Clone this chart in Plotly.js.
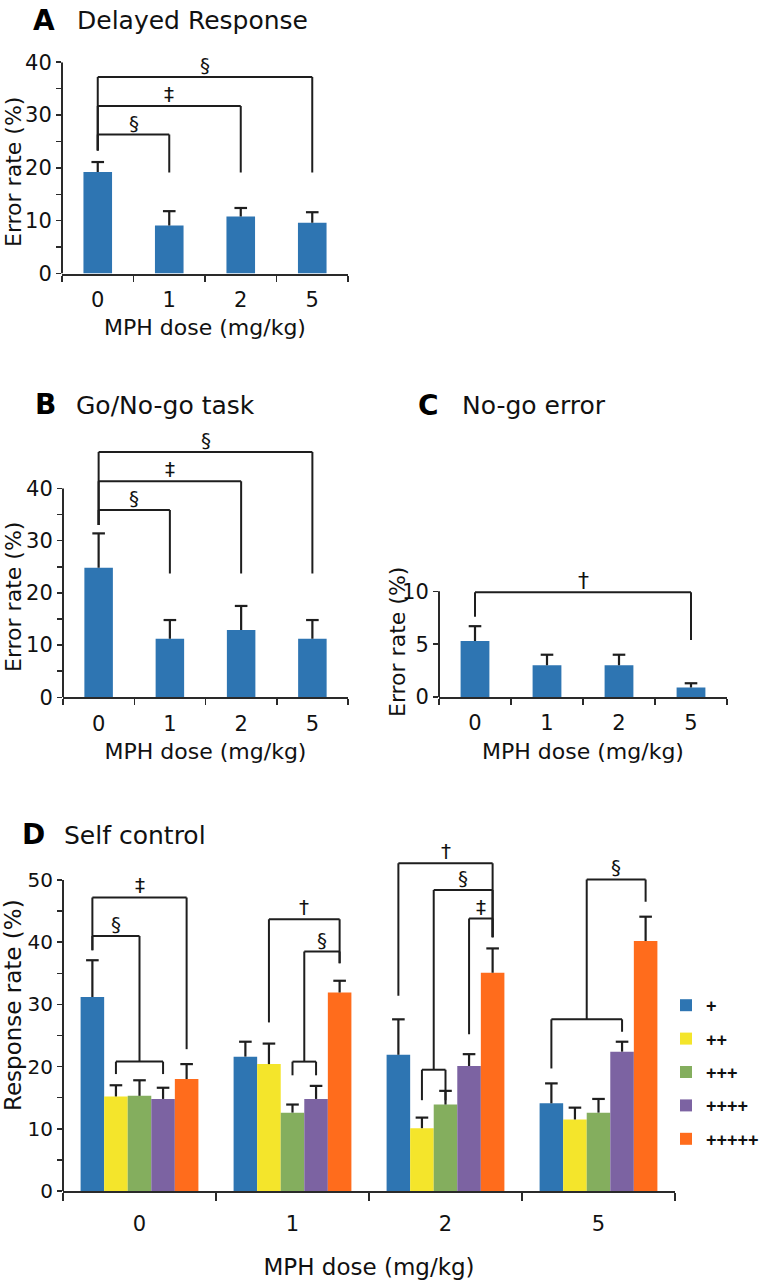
<!DOCTYPE html>
<html>
<head>
<meta charset="utf-8">
<script src="https://cdn.plot.ly/plotly-3.0.1.min.js"></script>
<style>
  html, body { margin: 0; padding: 0; background: #ffffff; }
  #chart { width: 764px; height: 1280px; }
</style>
</head>
<body>
<div id="chart"></div>
<script>
// ---------------- data ----------------
const doses = ['0', '1', '2', '5'];
const xLabel = 'MPH dose (mg/kg)';
const yLabelError = 'Error rate (%)';
const yLabelResponse = 'Response rate (%)';

// Panel A: Delayed Response
const delayedMean = [19.2, 9.1, 10.8, 9.6];
const delayedSem  = [1.9, 2.7, 1.6, 2.0];
// Panel B: Go/No-go task
const goNoGoMean = [24.8, 11.2, 12.9, 11.2];
const goNoGoSem  = [6.6, 3.6, 4.6, 3.6];
// Panel C: No-go error
const noGoMean = [5.3, 3.0, 3.0, 0.9];
const noGoSem  = [1.4, 1.0, 1.0, 0.4];

// Panel D: Self control (per level, across doses)
const levels = ['+', '++', '+++', '++++', '+++++'];
const selfMean = [
  [31.2, 21.6, 21.9, 14.1],
  [15.2, 20.4, 10.1, 11.5],
  [15.3, 12.6, 13.9, 12.6],
  [14.8, 14.8, 20.1, 22.4],
  [18.0, 31.9, 35.1, 40.2]
];
const selfSem = [
  [5.9, 2.4, 5.7, 3.2],
  [1.8, 3.3, 1.7, 1.9],
  [2.5, 1.3, 2.2, 2.2],
  [1.8, 2.1, 1.9, 1.6],
  [2.4, 1.9, 3.9, 3.9]
];

// Significance brackets: [fromDoseIdx, toDoseIdx, level, leftLegEnd, rightLegEnd, symbol]
const bracketsA = [
  [0, 3, 37.2, 23.3, 19.1, '§'],
  [0, 2, 31.7, 23.3, 19.1, '‡'],
  [0, 1, 26.3, 23.3, 19.1, '§']
];
const bracketsB = [
  [0, 3, 47.0, 33.0, 23.7, '§'],
  [0, 2, 41.4, 33.0, 23.7, '‡'],
  [0, 1, 35.9, 33.0, 23.7, '§']
];
const bracketsC = [
  [0, 3, 9.9, 7.6, 5.4, '†']
];
// Panel D brackets: [doseIdx, fromBarPos, toBarPos, level, leftLegEnd, rightLegEnd, symbol]
const bracketsD = [
  [0, 0, 4, 47.2, 38.7, 22.8, '‡'],
  [0, 0, 2, 41.0, 38.7, 20.8, '§'],
  [0, 1, 3, 20.8, 18.8, 18.8, ''],
  [1, 1, 4, 43.7, 27.1, 36.6, '†'],
  [1, 2.5, 4, 38.5, 20.8, 36.6, '§'],
  [1, 2, 3, 20.8, 18.6, 18.6, ''],
  [2, 0, 4, 52.7, 31.4, 40.8, '†'],
  [2, 1.5, 4, 48.4, 19.5, 40.8, '§'],
  [2, 1, 2, 19.5, 14.6, 14.6, ''],
  [2, 3, 4, 43.8, 25.2, 40.8, '‡'],
  [3, 1.5, 4, 50.1, 27.6, 46.5, '§'],
  [3, 0, 3, 27.6, 19.7, 25.6, '']
];

// ---------------- styling / layout helpers ----------------
const W = 764, H = 1280;
const FONT = 'DejaVu Sans';
const INK = '#1e1e1e';
const AXIS = '#2a2a2a';
const BAR_BLUE = '#2E75B2';
const levelColors = ['#2E75B2', '#F4E52B', '#84AE5E', '#7C63A2', '#FF6C1C'];
const BARGAP_D = 0.23;
const barW_D = (1 - BARGAP_D) / levels.length;

const idx = doses.map((d, i) => i);
const bounds = [-0.5].concat(idx.map(i => i + 0.5));
const barPos = (g, pos) => g + (pos - (levels.length - 1) / 2) * barW_D;

function dom(px0, px1, pyZero, ppu, ymax) {
  return {
    x: [px0 / W, px1 / W],
    y: [1 - pyZero / H, 1 - (pyZero - ppu * ymax) / H]
  };
}
const P = {
  A: Object.assign(dom(62, 348, 273.5, 5.283, 40), {ymax: 40, top: 40, major: [0, 10, 20, 30, 40], minor: [5, 15, 25, 35]}),
  B: Object.assign(dom(63, 348, 697.3, 5.22, 50), {ymax: 50, top: 40, major: [0, 10, 20, 30, 40], minor: [5, 15, 25, 35]}),
  C: Object.assign(dom(439, 727, 697, 10.57, 11.5), {ymax: 11.5, top: 10, major: [0, 5, 10], minor: []}),
  D: Object.assign(dom(63, 675, 1191, 6.22, 57), {ymax: 57, top: 50, major: [0, 10, 20, 30, 40, 50], minor: [5, 15, 25, 35, 45]})
};

function xAxis(p, anchor, tickSize, labelStandoff, titleSize, titleStandoff, tickLen) {
  return {
    domain: p.x, anchor: anchor, range: [-0.5, 3.5],
    tickmode: 'array', tickvals: idx, ticktext: doses,
    ticks: 'outside', ticklen: tickLen, tickcolor: 'rgba(0,0,0,0)',
    ticklabelstandoff: labelStandoff,
    minor: {tickmode: 'array', tickvals: bounds, ticks: 'outside', ticklen: tickLen, tickwidth: 1.5, tickcolor: AXIS, showgrid: false},
    showline: true, linewidth: 2, linecolor: AXIS,
    showgrid: false, zeroline: false,
    tickfont: {family: FONT, size: tickSize, color: '#111'},
    title: {text: xLabel, font: {family: FONT, size: titleSize, color: '#111'}, standoff: titleStandoff}
  };
}
function yAxis(p, anchor, tickSize) {
  return {
    domain: p.y, anchor: anchor, range: [0, p.ymax],
    tickmode: 'array', tickvals: p.major,
    ticks: 'outside', ticklen: 5, tickwidth: 1.5, tickcolor: AXIS,
    ticklabelstandoff: 0,
    minor: {tickmode: 'array', tickvals: p.minor, ticks: 'outside', ticklen: 5, tickwidth: 1.5, tickcolor: AXIS, showgrid: false},
    showline: false, showgrid: false, zeroline: false,
    tickfont: {family: FONT, size: tickSize, color: '#111'}
  };
}

// ---------------- traces ----------------
function barWithError(xs, means, sems, xa, ya, color, width, name, k) {
  const bar = {
    type: 'bar', x: xs, y: means, xaxis: xa, yaxis: ya,
    marker: {color: color, line: {width: 0}},
    showlegend: name !== undefined, name: name, hoverinfo: 'y'
  };
  if (width !== undefined) bar.width = width;
  if (name !== undefined) bar.legendgroup = 'g' + k;
  return bar;
}
// upward error bar ("T" shaped: line from bar top, cap only at the end)
function errorCaps(xs, means, sems, xa, ya) {
  return {
    type: 'scatter', mode: 'markers', xaxis: xa, yaxis: ya,
    x: xs, y: means.map((m, i) => m + sems[i]),
    marker: {symbol: 'line-ew', size: 9, color: INK, line: {color: INK, width: 2.2}},
    error_y: {type: 'data', symmetric: false, array: sems.map(() => 0), arrayminus: sems,
              color: INK, thickness: 2.2, width: 0},
    showlegend: false, hoverinfo: 'skip', cliponaxis: false
  };
}
const traces = [
  barWithError(idx, delayedMean, delayedSem, 'x', 'y', BAR_BLUE, 0.4),
  barWithError(idx, goNoGoMean, goNoGoSem, 'x2', 'y2', BAR_BLUE, 0.4),
  barWithError(idx, noGoMean, noGoSem, 'x3', 'y3', BAR_BLUE, 0.4)
];
levels.forEach((lv, k) => {
  traces.push(barWithError(idx, selfMean[k], selfSem[k], 'x4', 'y4', levelColors[k], undefined, lv, k));
});
traces.push(errorCaps(idx, delayedMean, delayedSem, 'x', 'y'));
traces.push(errorCaps(idx, goNoGoMean, goNoGoSem, 'x2', 'y2'));
traces.push(errorCaps(idx, noGoMean, noGoSem, 'x3', 'y3'));
levels.forEach((lv, k) => {
  traces.push(errorCaps(idx.map(g => barPos(g, k)), selfMean[k], selfSem[k], 'x4', 'y4'));
});

// ---------------- shapes & annotations ----------------
const shapes = [];
const annotations = [];
const lineStyle = {color: INK, width: 2};

// y axis lines (stop at top tick)
[['x', 'y', P.A], ['x2', 'y2', P.B], ['x3', 'y3', P.C], ['x4', 'y4', P.D]].forEach(([xa, ya, p]) => {
  shapes.push({type: 'line', xref: xa + ' domain', yref: ya, x0: 0, x1: 0, y0: 0, y1: p.top,
               line: {color: AXIS, width: 2}});
});

function addBracket(xa, ya, x0, x1, lvl, leg0, leg1, sym, symSize) {
  shapes.push({type: 'line', xref: xa, yref: ya, x0: x0, x1: x1, y0: lvl, y1: lvl, line: lineStyle});
  shapes.push({type: 'line', xref: xa, yref: ya, x0: x0, x1: x0, y0: lvl, y1: leg0, line: lineStyle});
  shapes.push({type: 'line', xref: xa, yref: ya, x0: x1, x1: x1, y0: lvl, y1: leg1, line: lineStyle});
  if (sym) {
    annotations.push({xref: xa, yref: ya, x: (x0 + x1) / 2, y: lvl, text: sym, showarrow: false,
                      xanchor: 'center', yanchor: 'middle', yshift: 12,
                      font: {family: FONT, size: symSize, color: '#111'}});
  }
}
bracketsA.forEach(b => addBracket('x', 'y', b[0], b[1], b[2], b[3], b[4], b[5], 20));
bracketsB.forEach(b => addBracket('x2', 'y2', b[0], b[1], b[2], b[3], b[4], b[5], 20));
bracketsC.forEach(b => addBracket('x3', 'y3', b[0], b[1], b[2], b[3], b[4], b[5], 22));
bracketsD.forEach(b => addBracket('x4', 'y4', barPos(b[0], b[1]), barPos(b[0], b[2]), b[3], b[4], b[5], b[6], 20));

// panel headings
function heading(letter, text, pxL, pxT, py) {
  annotations.push({xref: 'paper', yref: 'paper', x: pxL / W, y: 1 - py / H, text: '<b>' + letter + '</b>',
                    showarrow: false, xanchor: 'left', yanchor: 'middle',
                    font: {family: FONT, size: 28, color: '#000'}});
  annotations.push({xref: 'paper', yref: 'paper', x: pxT / W, y: 1 - (py + 1) / H, text: text,
                    showarrow: false, xanchor: 'left', yanchor: 'middle',
                    font: {family: FONT, size: 25, color: '#111'}});
}
heading('A', 'Delayed Response', 31, 75, 20);
heading('B', 'Go/No-go task', 33, 74, 404);
heading('C', 'No-go error', 416, 460, 405);
heading('D', 'Self control', 20, 62, 834);

// y axis titles
function yTitle(text, px, py, size) {
  annotations.push({xref: 'paper', yref: 'paper', x: px / W, y: 1 - py / H, text: text, textangle: -90,
                    showarrow: false, xanchor: 'center', yanchor: 'middle',
                    font: {family: FONT, size: size, color: '#111'}});
}
yTitle(yLabelError, 13, 172, 22);
yTitle(yLabelError, 13, 597, 22);
yTitle(yLabelError, 397, 642, 22);
yTitle(yLabelResponse, 13, 1005, 23);

const layout = {
  width: W, height: H,
  margin: {l: 0, r: 0, t: 0, b: 0},
  paper_bgcolor: '#ffffff', plot_bgcolor: 'rgba(0,0,0,0)',
  barmode: 'group', bargap: BARGAP_D, bargroupgap: 0,
  showlegend: true,
  legend: {x: 666 / W, xanchor: 'left', y: 1 - 987 / H, yanchor: 'top',
           font: {family: 'Liberation Sans', size: 18, color: '#111', weight: 'bold'},
           tracegroupgap: 7, itemwidth: 30, bgcolor: 'rgba(0,0,0,0)', traceorder: 'grouped'},
  xaxis: xAxis(P.A, 'y', 21, 0, 22, 9, 6),
  yaxis: yAxis(P.A, 'x', 21),
  xaxis2: xAxis(P.B, 'y2', 21, 0, 22, 9, 6),
  yaxis2: yAxis(P.B, 'x2', 21),
  xaxis3: xAxis(P.C, 'y3', 21, 0, 22, 9, 6),
  yaxis3: yAxis(P.C, 'x3', 21),
  xaxis4: xAxis(P.D, 'y4', 21, 5, 23, 25, 8),
  yaxis4: yAxis(P.D, 'x4', 20),
  shapes: shapes,
  annotations: annotations
};

Plotly.newPlot('chart', traces, layout, {displayModeBar: false, staticPlot: true});
</script>
</body>
</html>
